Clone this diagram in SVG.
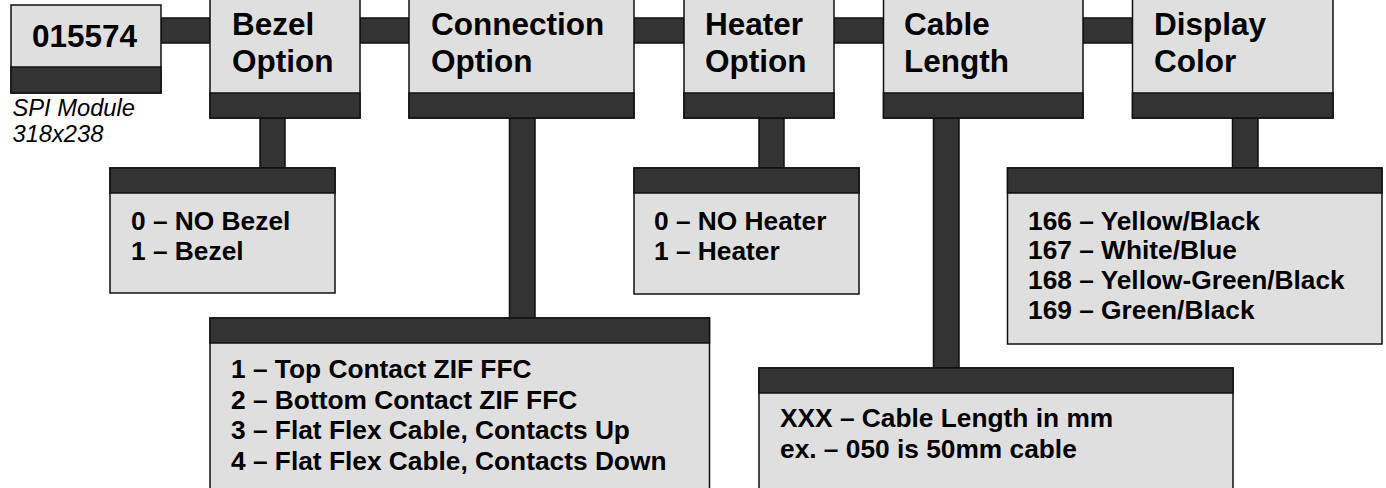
<svg xmlns="http://www.w3.org/2000/svg" width="1386" height="488" viewBox="0 0 1386 488">
<style>
.box{fill:#dfdfdf;stroke:#111;stroke-width:1.5}
.band{fill:#333;stroke:#111;stroke-width:1.5}
.conn{fill:#333;stroke:#111;stroke-width:1.5}
.title{font-family:"Liberation Sans",Arial,sans-serif;font-weight:bold;font-size:31.5px;fill:#000}
.item{font-family:"Liberation Sans",Arial,sans-serif;font-weight:bold;font-size:26.3px;fill:#000}
.note{font-family:"Liberation Sans",Arial,sans-serif;font-style:italic;font-size:23.7px;fill:#000}
</style>
<rect width="1386" height="488" fill="#fff"/>
<g id="connectors">
<rect class="conn" x="161" y="18" width="49" height="25"/>
<rect class="conn" x="360" y="18" width="49" height="25"/>
<rect class="conn" x="634" y="18" width="50" height="25"/>
<rect class="conn" x="834" y="18" width="49.5" height="25"/>
<rect class="conn" x="1083" y="18" width="49.5" height="25"/>
<rect class="conn" x="260" y="118" width="25" height="50"/>
<rect class="conn" x="509.5" y="118" width="25.5" height="200"/>
<rect class="conn" x="759" y="118" width="25" height="50"/>
<rect class="conn" x="933.5" y="118" width="25.5" height="250"/>
<rect class="conn" x="1232.5" y="118" width="25.5" height="50"/>
</g>
<g id="part-number">
<rect class="box" x="11" y="5" width="150" height="88"/>
<rect class="band" x="11" y="67" width="150" height="26"/>
<text class="title" x="32" y="46.5">015574</text>
<text class="note" x="12.5" y="116">SPI Module</text>
<text class="note" x="12.5" y="142">318x238</text>
</g>
<g id="bezel-option">
<rect class="box" x="210" y="-3" width="150" height="121"/>
<rect class="band" x="210" y="93" width="150" height="25"/>
<text class="title" x="232" y="34.5">Bezel</text>
<text class="title" x="232" y="71.5">Option</text>
</g>
<g id="connection-option">
<rect class="box" x="409" y="-3" width="225" height="121"/>
<rect class="band" x="409" y="93" width="225" height="25"/>
<text class="title" x="431" y="34.5">Connection</text>
<text class="title" x="431" y="71.5">Option</text>
</g>
<g id="heater-option">
<rect class="box" x="684" y="-3" width="150" height="121"/>
<rect class="band" x="684" y="93" width="150" height="25"/>
<text class="title" x="705" y="34.5">Heater</text>
<text class="title" x="705" y="71.5">Option</text>
</g>
<g id="cable-length">
<rect class="box" x="883.5" y="-3" width="199.5" height="121"/>
<rect class="band" x="883.5" y="93" width="199.5" height="25"/>
<text class="title" x="904" y="34.5">Cable</text>
<text class="title" x="904" y="71.5">Length</text>
</g>
<g id="display-color">
<rect class="box" x="1132.5" y="-3" width="200.5" height="121"/>
<rect class="band" x="1132.5" y="93" width="200.5" height="25"/>
<text class="title" x="1154" y="34.5">Display</text>
<text class="title" x="1154" y="71.5">Color</text>
</g>
<g id="bezel-values">
<rect class="box" x="110" y="168" width="225" height="125"/>
<rect class="band" x="110" y="168" width="225" height="25"/>
<text class="item" x="131" y="230">0 – NO Bezel</text>
<text class="item" x="131" y="259.5">1 – Bezel</text>
</g>
<g id="connection-values">
<rect class="box" x="210" y="318" width="499.5" height="180"/>
<rect class="band" x="210" y="318" width="499.5" height="25"/>
<text class="item" x="231" y="378">1 – Top Contact ZIF FFC</text>
<text class="item" x="231" y="408.5">2 – Bottom Contact ZIF FFC</text>
<text class="item" x="231" y="439">3 – Flat Flex Cable, Contacts Up</text>
<text class="item" x="231" y="469.5">4 – Flat Flex Cable, Contacts Down</text>
</g>
<g id="heater-values">
<rect class="box" x="634" y="168" width="225" height="126"/>
<rect class="band" x="634" y="168" width="225" height="25"/>
<text class="item" x="654" y="230">0 – NO Heater</text>
<text class="item" x="654" y="259.5">1 – Heater</text>
</g>
<g id="cable-values">
<rect class="box" x="759" y="368" width="474" height="130"/>
<rect class="band" x="759" y="368" width="474" height="25"/>
<text class="item" x="780" y="427">XXX – Cable Length in mm</text>
<text class="item" x="780" y="458">ex. – 050 is 50mm cable</text>
</g>
<g id="display-values">
<rect class="box" x="1007.5" y="168" width="374.5" height="176"/>
<rect class="band" x="1007.5" y="168" width="374.5" height="25"/>
<text class="item" x="1028" y="229.5">166 – Yellow/Black</text>
<text class="item" x="1028" y="259">167 – White/Blue</text>
<text class="item" x="1028" y="289">168 – Yellow-Green/Black</text>
<text class="item" x="1028" y="319">169 – Green/Black</text>
</g>
</svg>
